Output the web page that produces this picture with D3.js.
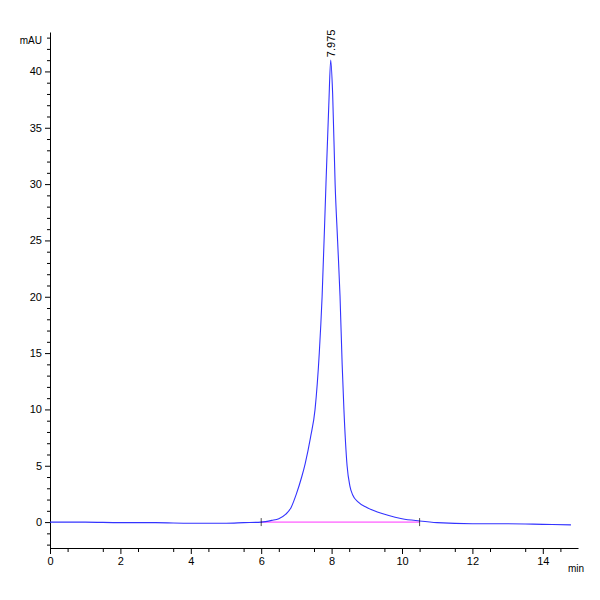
<!DOCTYPE html>
<html><head><meta charset="utf-8">
<script src="https://cdn.jsdelivr.net/npm/d3@7"></script>
<style>body{margin:0;background:#fff}text{font-family:"Liberation Sans",Arial,sans-serif}</style>
</head><body><div class="canvas"></div>
<script>
// signal trace (min, mAU)
const times = [0, 1, 2, 3, 4, 5, 5.5, 6, 6.3, 6.5, 6.7, 6.85, 7.0, 7.15, 7.25, 7.4, 7.53, 7.65, 7.73, 7.84, 7.92, 7.975, 8.03, 8.1, 8.17, 8.24, 8.3, 8.35, 8.44, 8.52, 8.6, 8.75, 9.0, 9.3, 9.6, 10.0, 10.5, 11, 12, 13, 14, 14.8];
const signal = [0, 0, -0.05, -0.05, -0.1, -0.1, -0.05, 0, 0.15, 0.3, 0.7, 1.3, 2.5, 4.0, 5.2, 7.5, 10, 15, 20, 30, 37, 41, 38, 30, 25, 20, 14, 10, 5, 3.2, 2.4, 1.8, 1.3, 0.9, 0.6, 0.3, 0.1, -0.05, -0.15, -0.15, -0.2, -0.25];
const xTicks = [0, 2, 4, 6, 8, 10, 12, 14];
const yTicks = [0, 5, 10, 15, 20, 25, 30, 35, 40];
const baseline = [[6, 0], [10.5, 0]];
const peakTime = 7.975, peakHeight = 41;

const svg = d3.select('.canvas').append('svg').attr('width', 600).attr('height', 600);

const x = d3.scaleLinear().domain([0, 15]).range([50, 578]);
const y = d3.scaleLinear().domain([-2.3, 43.5]).range([548, 32]);

const xAxis = svg.append('g').attr('transform', 'translate(0,548)')
    .call(d3.axisBottom(x).tickValues(xTicks).tickSize(6).tickSizeOuter(0).tickFormat(d3.format('d')));
svg.append('g').attr('transform', 'translate(0,548)')
    .call(d3.axisBottom(x).tickValues(d3.range(0.5, 15, 1)).tickSize(4).tickFormat('')).select('.domain').remove();
const yAxis = svg.append('g').attr('transform', 'translate(50,0)')
    .call(d3.axisLeft(y).tickValues(yTicks).tickSize(5).tickSizeOuter(0));
svg.append('g').attr('transform', 'translate(50,0)')
    .call(d3.axisLeft(y).tickValues(d3.range(-2, 44, 1).filter(v => v % 5 !== 0)).tickSize(3).tickFormat('')).select('.domain').remove();
svg.selectAll('.tick text').attr('font-size', 11).attr('fill', '#000');
svg.selectAll('path.domain').attr('stroke', '#000');

svg.append('text').attr('x', 568).attr('y', 572).attr('font-size', 10).text('min');
svg.append('text').attr('x', 42).attr('y', 44).attr('text-anchor', 'end').attr('font-size', 10).text('mAU');

svg.append('path').datum(baseline)
    .attr('d', d3.line().x(d => x(d[0])).y(d => y(d[1])))
    .attr('stroke', '#ff33ff').attr('fill', 'none');

const pts = times.map((t, i) => [t, signal[i]]);
svg.append('path').datum(pts)
    .attr('d', d3.line().x(d => x(d[0])).y(d => y(d[1])).curve(d3.curveMonotoneX))
    .attr('stroke', '#3333ff').attr('stroke-width', 1.1).attr('fill', 'none');

[6, 10.5].forEach(t => svg.append('line').attr('x1', x(t)).attr('x2', x(t))
    .attr('y1', y(0) - 4).attr('y2', y(0) + 4).attr('stroke', '#000').attr('stroke-width', 0.7));

svg.append('text')
    .attr('transform', `translate(${x(peakTime) + 4},${y(peakHeight) - 3}) rotate(-90)`)
    .attr('font-size', 11).text(peakTime.toFixed(3));
</script></body></html>
